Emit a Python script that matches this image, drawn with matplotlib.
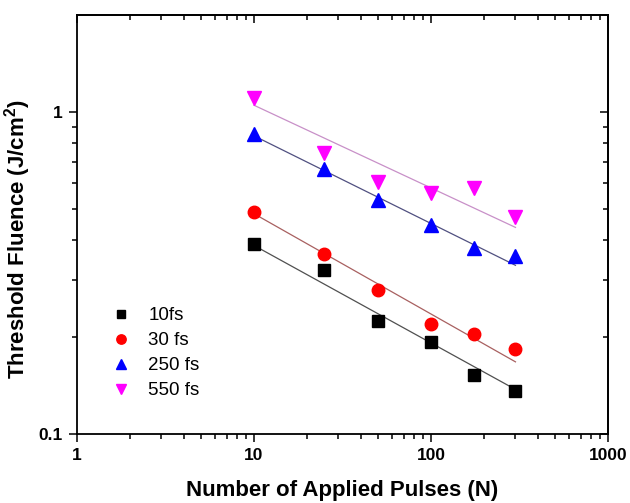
import matplotlib
matplotlib.use("Agg")
import matplotlib.pyplot as plt
import matplotlib.ticker as ticker
import numpy as np

plt.rcParams['font.family'] = ['Liberation Sans', 'DejaVu Sans']

# pulses (N)
pulses = [10, 25, 50, 100, 175, 300]

# threshold fluence (J/cm^2)
f_10fs = [0.389, 0.324, 0.225, 0.193, 0.153, 0.136]
f_30fs = [0.489, 0.362, 0.279, 0.220, 0.205, 0.184]
f_250fs = [0.853, 0.667, 0.533, 0.447, 0.378, 0.358]
f_550fs = [1.107, 0.745, 0.604, 0.560, 0.579, 0.473]

# fitted lines (ends at N = 10 and N = 300)
fit_x = [10, 300]
fit_10fs = [0.385, 0.1375]
fit_30fs = [0.483, 0.1675]
fit_250fs = [0.843, 0.334]
fit_550fs = [1.049, 0.438]

labels = ['10fs', '30 fs', '250 fs', '550 fs']

fig = plt.figure(figsize=(6.3, 5.03), dpi=100)
ax = fig.add_axes([0.1222, 0.1372, 0.8429, 0.833])

# fit lines
ax.plot(fit_x, fit_10fs, color='#505050', lw=0.9, zorder=1)
ax.plot(fit_x, fit_30fs, color='#a86060', lw=0.9, zorder=1)
ax.plot(fit_x, fit_250fs, color='#505080', lw=0.9, zorder=1)
ax.plot(fit_x, fit_550fs, color='#c890c8', lw=0.9, zorder=1)

# data points
ax.plot(pulses, f_10fs, 's', color='black', ms=8, ls='none', label=labels[0], zorder=2)
ax.plot(pulses, f_30fs, 'o', color='red', ms=9, ls='none', label=labels[1], zorder=2)
ax.plot(pulses, f_250fs, '^', color='blue', ms=9.5, ls='none', label=labels[2], zorder=2)
ax.plot(pulses, f_550fs, 'v', color='magenta', ms=9.5, ls='none', label=labels[3], zorder=2)

ax.set_xscale('log')
ax.set_yscale('log')
ax.set_xlim(1, 1000)
ax.set_ylim(0.1, 2)

ax.xaxis.set_major_locator(ticker.LogLocator(base=10))
ax.xaxis.set_minor_locator(ticker.LogLocator(base=10, subs=np.arange(2, 10)))
ax.xaxis.set_major_formatter(ticker.FuncFormatter(lambda v, p: '%g' % v))
ax.xaxis.set_minor_formatter(ticker.NullFormatter())
ax.yaxis.set_major_locator(ticker.FixedLocator([0.1, 1]))
ax.yaxis.set_minor_locator(ticker.FixedLocator([0.2, 0.3, 0.4, 0.5, 0.6, 0.7, 0.8, 0.9]))
ax.yaxis.set_major_formatter(ticker.FuncFormatter(lambda v, p: '%g' % v))
ax.yaxis.set_minor_formatter(ticker.NullFormatter())

for s in ax.spines.values():
    s.set_linewidth(1.3)

ax.tick_params(which='both', direction='out', top=False, right=False, width=1.1)
ax.tick_params(which='major', length=6, labelsize=12.5, pad=4)
ax.tick_params(which='minor', length=3.5)
for lab in ax.get_xticklabels() + ax.get_yticklabels():
    lab.set_fontweight('bold')

# inward ticks on top and right
ax_top = ax.secondary_xaxis('top')
ax_top.xaxis.set_major_locator(ticker.LogLocator(base=10))
ax_top.xaxis.set_minor_locator(ticker.LogLocator(base=10, subs=np.arange(2, 10)))
ax_top.tick_params(which='both', direction='in', labeltop=False, width=1.1)
ax_top.tick_params(which='major', length=6)
ax_top.tick_params(which='minor', length=3.5)
ax_top.spines['top'].set_linewidth(1.3)
ax_right = ax.secondary_yaxis('right')
ax_right.yaxis.set_major_locator(ticker.FixedLocator([0.1, 1]))
ax_right.yaxis.set_minor_locator(ticker.FixedLocator([0.2, 0.3, 0.4, 0.5, 0.6, 0.7, 0.8, 0.9]))
ax_right.tick_params(which='both', direction='in', labelright=False, width=1.1)
ax_right.tick_params(which='major', length=6)
ax_right.tick_params(which='minor', length=3.5)
ax_right.spines['right'].set_linewidth(1.3)

ax.set_xlabel('Number of Applied Pulses (N)', fontsize=16, fontweight='bold', labelpad=12)
ax.set_ylabel('Threshold Fluence (J/cm$^\\mathregular{2}$)', fontsize=16, fontweight='bold')
ax.yaxis.set_label_coords(-0.083, 0.465)

ax.legend(loc='lower left', bbox_to_anchor=(0.03, 0.043), frameon=False, fontsize=13.5,
          handletextpad=0.85, labelspacing=0.42, handlelength=1.2, markerscale=0.75)

fig.savefig('out.png', dpi=100)
